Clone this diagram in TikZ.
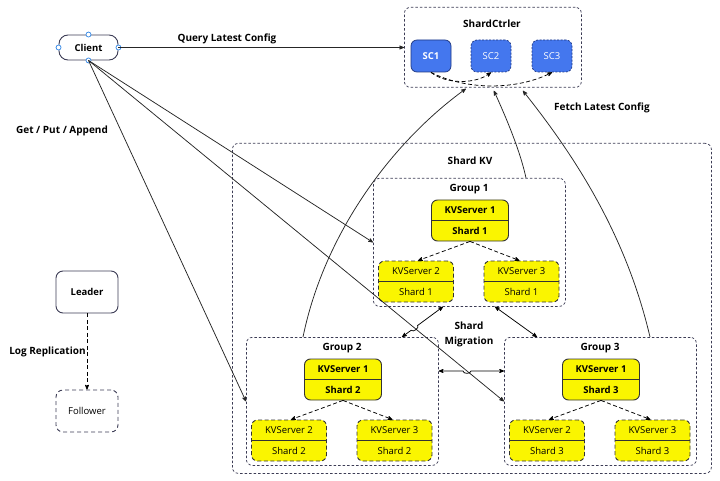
\documentclass[tikz,border=0pt]{standalone}
\usepackage{fontspec}
\setmainfont{Open Sans}
\usepackage{tikz}
\usetikzlibrary{arrows,positioning,calc,shapes}

\definecolor{edgegray}{RGB}{60,60,85}
\definecolor{scblue}{RGB}{68,119,238}
\definecolor{scborder}{RGB}{30,55,130}
\definecolor{kvyellow}{RGB}{250,245,0}
\definecolor{handleblue}{RGB}{60,140,230}

\begin{document}
\begin{tikzpicture}[x=1pt,y=-1pt,>=stealth',line width=0.75pt,
        every node/.style = {font=\fontsize{9.5}{11}\selectfont},
        line/.style = {draw = black!85, ->},
        dashline/.style = {dash pattern=on 4pt off 2.5pt},
        title/.style = {font=\fontsize{10}{12}\selectfont\bfseries},
        container/.style = {draw = edgegray, dash pattern=on 2.5pt off 2pt,
            rounded corners=6pt},
        groupbox/.style = {container, minimum width=192, minimum height=128,
            anchor=north west},
        leadkv/.style = {draw = black!80, line width=0.9pt, fill = kvyellow,
            rounded corners=6pt, minimum width=77, minimum height=41,
            align=center, font=\fontsize{9.5}{21}\selectfont\bfseries},
        followkv/.style = {leadkv, dashline, minimum width=75,
            font=\fontsize{9.5}{21}\selectfont},
        scnode/.style = {draw = scborder, fill = scblue, text = white,
            rounded corners=6pt, minimum width=40, minimum height=32},
        role/.style = {draw = edgegray, line width=0.9pt, rounded corners=7pt,
            minimum width=62, minimum height=42},
        handle/.style = {draw = handleblue, fill = white, circle,
            inner sep=0pt, minimum size=5}]
    \useasboundingbox (0,0) rectangle (720,481);

    % client
    \node[draw = edgegray, line width=0.9pt, rounded corners=9pt,
        minimum width=59, minimum height=25,
        font=\fontsize{9.5}{11}\selectfont\bfseries]
        (client) at (88.5,47.5) {Client};
    \foreach \a in {north,south,east,west}
        \node[handle] at (client.\a) {};

    % shard controller
    \node[container, minimum width=177, minimum height=80, anchor=north west]
        (ctrler) at (404,7) {};
    \node[title] (ctrltitle) at (492,24) {ShardCtrler};
    \node[scnode, font=\fontsize{9.5}{11}\selectfont\bfseries] (sc1)
        at (431,56) {SC1};
    \node[scnode, dash pattern=on 2pt off 1.5pt] (sc2) at (491,56) {SC2};
    \node[scnode, dash pattern=on 2pt off 1.5pt] (sc3) at (552,56) {SC3};
    \draw[->, dashline] (sc1.south) .. controls +(15,12) and +(-15,12) .. (sc2.south);
    \draw[->, dashline] (sc1.south) .. controls +(35,18) and +(-35,18) .. (sc3.south);

    % shard kv
    \node[container, minimum width=479, minimum height=330, anchor=north west]
        (shardkv) at (232,143) {};
    \node[title] (kvtitle) at (470,161) {Shard KV};

    \foreach \g/\x/\y in {1/373/178, 2/246/337, 3/504/337} {
        \node[groupbox] (g\g) at (\x,\y) {};
        \node[title] (g\g-t) at (\x+96,\y+11) {Group \g};
        \node[leadkv] (g\g-s1) at (\x+97,\y+42.5) {KVServer 1\\Shard \g};
        \node[followkv] (g\g-s2) at (\x+43,\y+103.5) {KVServer 2\\Shard \g};
        \node[followkv] (g\g-s3) at (\x+148.5,\y+103.5) {KVServer 3\\Shard \g};
        \foreach \k in {1,2,3}
            \draw[black!80, line width=0.9pt] (g\g-s\k.west) -- (g\g-s\k.east);
        \draw[->, dashline] (g\g-s1.south) -- ($(g\g-s2.north)+(2,0)$);
        \draw[->, dashline] (g\g-s1.south) -- ($(g\g-s3.north)+(-2,0)$);
    }

    % client requests
    \draw[line] (client.east) -- node[above, pos=0.38,
        font=\fontsize{10}{12}\selectfont\bfseries] {Query Latest Config}
        (ctrler.west |- client.east);
    \draw[line] (client.south) -- (g1.west);
    \draw[line] (client.south) -- (g2.west);
    \draw[line] (client.south) -- (g3.west);
    \node[title] (gpa) at (62,131) {Get / Put / Append};

    % fetch config
    \draw[line] ($(g2.north west)+(57,0)$) .. controls (325,230) and (395,140)
        .. ($(ctrler.south)+(-27,1)$);
    \draw[line] ($(g1.north west)+(153,0)$) .. controls (520,150) and (505,115)
        .. ($(ctrler.south)+(1,3)$);
    \draw[line] ($(g3.north west)+(146,0)$) .. controls (625,230) and (570,150)
        .. ($(ctrler.south)+(30,3)$);
    \node[title] (fetch) at (602,108) {Fetch Latest Config};

    % shard migration
    \node[title, align=center, font=\fontsize{10}{15}\selectfont\bfseries]
        (migr) at (469,334) {Shard\\Migration};
    \coordinate (m1a) at ($(g1.south west)+(70,0)$);
    \coordinate (m1b) at ($(g2.north west)+(156,0)$);
    \coordinate (m2a) at ($(g1.south west)+(122,0)$);
    \coordinate (m2b) at ($(g3.north west)+(33,0)$);
    \coordinate (m3a) at ($(g2.north east)+(0,34)$);
    \coordinate (m3b) at ($(g3.north west)+(0,34)$);
    \coordinate (x1) at (intersection of client.south--g3.west and m1a--m1b);
    \coordinate (x3) at (intersection of client.south--g3.west and m3a--m3b);
    \draw[<->] (m1a) -- ($(x1)!4pt!(m1a)$) to[bend left=90]
        ($(x1)!4pt!(m1b)$) -- (m1b);
    \draw[<->] (m2a) -- (m2b);
    \draw[<->] (m3a) -- ($(x3)!4pt!(m3a)$) to[bend right=90]
        ($(x3)!4pt!(m3b)$) -- (m3b);

    % raft roles
    \node[role, font=\fontsize{9.5}{11}\selectfont\bfseries] (leader)
        at (87,292) {Leader};
    \node[role, dash pattern=on 4pt off 3pt] (follower) at (87,411) {Follower};
    \draw[->, dashline] (leader.south) -- node[left, title, inner sep=1pt]
        {Log Replication} (follower.north);
\end{tikzpicture}
\end{document}
